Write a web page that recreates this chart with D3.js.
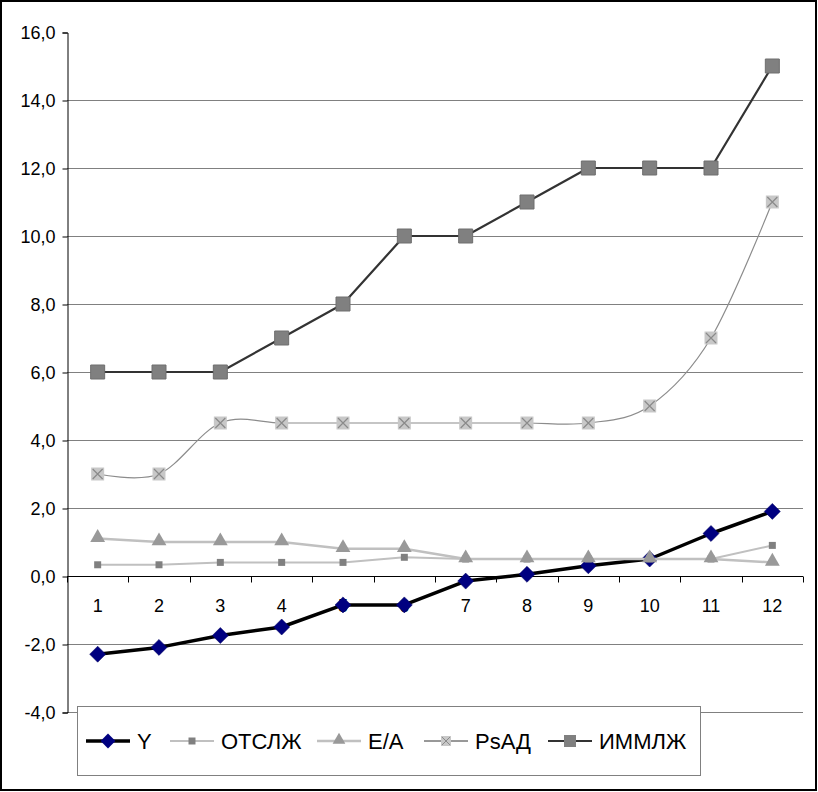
<!DOCTYPE html>
<html>
<head>
<meta charset="utf-8">
<script src="https://cdn.jsdelivr.net/npm/d3@7"></script>
<style>
  html, body { margin: 0; padding: 0; background: #fff; }
  svg { display: block; }
</style>
</head>
<body>
<div id="chart"></div>
<script>
// categories and series
const categories = [1, 2, 3, 4, 5, 6, 7, 8, 9, 10, 11, 12];
const seriesY     = [-2.3, -2.1, -1.75, -1.5, -0.85, -0.85, -0.15, 0.05, 0.3, 0.5, 1.25, 1.9];
const seriesOTS   = [0.33, 0.33, 0.4, 0.4, 0.4, 0.55, 0.5, 0.5, 0.5, 0.5, 0.5, 0.9];
const seriesEA    = [1.1, 1.0, 1.0, 1.0, 0.8, 0.8, 0.5, 0.5, 0.5, 0.5, 0.5, 0.4];
const seriesPsAD  = [3, 3, 4.5, 4.5, 4.5, 4.5, 4.5, 4.5, 4.5, 5, 7, 11];
const seriesIMML  = [6, 6, 6, 7, 8, 10, 10, 11, 12, 12, 12, 15];
const yTicks = [-4, -2, 0, 2, 4, 6, 8, 10, 12, 14, 16];
const seriesNames = ['Y', 'ОТСЛЖ', 'Е/А', 'PsАД', 'ИММЛЖ'];

const W = 818, H = 792;
const font = 'Liberation Sans, Arial, sans-serif';

const svg = d3.select('#chart').append('svg')
  .attr('width', W).attr('height', H);

svg.append('rect')
  .attr('x', 1).attr('y', 1).attr('width', W - 3).attr('height', H - 3)
  .attr('fill', '#fff').attr('stroke', '#000').attr('stroke-width', 2);

const x = d3.scaleBand().domain(categories).range([67, 803]);
const y = d3.scaleLinear().domain([-4, 16]).range([712, 32]);
const cx = d => x(d) + x.bandwidth() / 2;

// gridlines
svg.append('g')
  .selectAll('line')
  .data(yTicks.filter(t => t !== 0 && t !== 16))
  .enter().append('line')
  .attr('x1', 67).attr('x2', 803)
  .attr('y1', d => y(d) + 0.5).attr('y2', d => y(d) + 0.5)
  .attr('stroke', '#808080').attr('stroke-width', 1);

// y axis
const yAxis = svg.append('g')
  .attr('transform', 'translate(67.5,0.5)')
  .call(d3.axisLeft(y).tickValues(yTicks).tickSize(5).tickPadding(7)
    .tickFormat(d => d.toFixed(1).replace('.', ',')));
yAxis.select('.domain').attr('stroke', '#000');
yAxis.selectAll('.tick line').attr('stroke', '#000');
yAxis.selectAll('text').attr('font-family', font).attr('font-size', 18).attr('fill', '#000');

// x axis at zero
const xg = svg.append('g').attr('transform', `translate(0,${y(0) + 0.5})`);
xg.append('line').attr('x1', 67).attr('x2', 803).attr('stroke', '#000');
xg.selectAll('line.tk')
  .data(categories.concat([null]))
  .enter().append('line')
  .attr('class', 'tk')
  .attr('x1', (d, i) => Math.round(67 + i * x.bandwidth()) + 0.5)
  .attr('x2', (d, i) => Math.round(67 + i * x.bandwidth()) + 0.5)
  .attr('y1', 0).attr('y2', 6)
  .attr('stroke', '#000');
xg.selectAll('text')
  .data(categories)
  .enter().append('text')
  .attr('x', d => cx(d))
  .attr('y', 35)
  .attr('text-anchor', 'middle')
  .attr('font-family', font).attr('font-size', 18)
  .text(d => d);

// marker makers
const diamond = d3.symbol().type(d3.symbolSquare).size(128);
const smallSq = d3.symbol().type(d3.symbolSquare).size(49);
const tri = d3.symbol().type(d3.symbolTriangle).size(95);
const bigSq = d3.symbol().type(d3.symbolSquare).size(196);
const midSq = d3.symbol().type(d3.symbolSquare).size(169);

function drawMarker(g, kind) {
  if (kind === 'Y') {
    g.append('path').attr('d', diamond()).attr('transform', 'rotate(45)')
      .attr('fill', '#000080').attr('stroke', '#000060').attr('stroke-width', 0.5);
  } else if (kind === 'OTS') {
    g.append('path').attr('d', smallSq()).attr('fill', '#808080');
  } else if (kind === 'EA') {
    g.append('path').attr('d', tri()).attr('transform', 'translate(0,-1)').attr('fill', '#999999');
  } else if (kind === 'PS') {
    g.append('path').attr('d', midSq()).attr('fill', '#c8c8c8');
    g.append('path').attr('d', 'M-5,-5L5,5M-5,5L5,-5').attr('stroke', '#8a8a8a').attr('stroke-width', 1.2);
  } else if (kind === 'IM') {
    g.append('path').attr('d', bigSq()).attr('fill', '#808080')
      .attr('stroke', '#6e6e6e').attr('stroke-width', 1);
  }
}

const series = [
  { kind: 'Y', values: seriesY, stroke: '#000', width: 3.5, curve: d3.curveLinear },
  { kind: 'OTS', values: seriesOTS, stroke: '#c0c0c0', width: 2, curve: d3.curveLinear },
  { kind: 'EA', values: seriesEA, stroke: '#c0c0c0', width: 2.5, curve: d3.curveLinear },
  { kind: 'PS', values: seriesPsAD, stroke: '#8c8c8c', width: 1.2, curve: d3.curveCatmullRom.alpha(0) },
  { kind: 'IM', values: seriesIMML, stroke: '#333', width: 2.2, curve: d3.curveLinear }
];

series.forEach(s => {
  const line = d3.line().x((d, i) => cx(categories[i])).y(d => y(d)).curve(s.curve);
  svg.append('path').datum(s.values)
    .attr('fill', 'none').attr('stroke', s.stroke).attr('stroke-width', s.width)
    .attr('stroke-linejoin', 'round')
    .attr('d', line);
  s.values.forEach((v, i) => {
    const g = svg.append('g').attr('transform', `translate(${cx(categories[i])},${y(v)})`);
    drawMarker(g, s.kind);
  });
});

// legend
const lg = svg.append('g');
lg.append('rect')
  .attr('x', 77.5).attr('y', 706.5).attr('width', 623).attr('height', 69)
  .attr('fill', '#fff').attr('stroke', '#808080');
const legendX = [86, 170, 317, 424, 548];
series.forEach((s, i) => {
  const g = lg.append('g').attr('transform', `translate(${legendX[i]},741)`);
  g.append('line').attr('x1', 0).attr('x2', 44)
    .attr('stroke', s.kind === 'PS' ? '#333' : s.stroke)
    .attr('stroke-width', s.kind === 'PS' ? 1 : s.width);
  const m = g.append('g').attr('transform', 'translate(22,0)');
  if (s.kind === 'Y') {
    m.append('path').attr('d', d3.symbol().type(d3.symbolSquare).size(110)()).attr('transform', 'rotate(45)').attr('fill', '#000080');
  } else if (s.kind === 'EA') {
    m.append('path').attr('d', d3.symbol().type(d3.symbolTriangle).size(70)()).attr('transform', 'translate(0,-1)').attr('fill', '#999');
  } else if (s.kind === 'PS') {
    m.append('path').attr('d', d3.symbol().type(d3.symbolSquare).size(100)()).attr('fill', '#c8c8c8');
    m.append('path').attr('d', 'M-4,-4L4,4M-4,4L4,-4').attr('stroke', '#8a8a8a');
  } else if (s.kind === 'IM') {
    m.append('path').attr('d', d3.symbol().type(d3.symbolSquare).size(144)()).attr('fill', '#808080');
  } else {
    drawMarker(m, s.kind);
  }
  g.append('text').attr('x', 51).attr('y', 8)
    .attr('font-family', font).attr('font-size', 22)
    .text(seriesNames[i]);
});
</script>
</body>
</html>
